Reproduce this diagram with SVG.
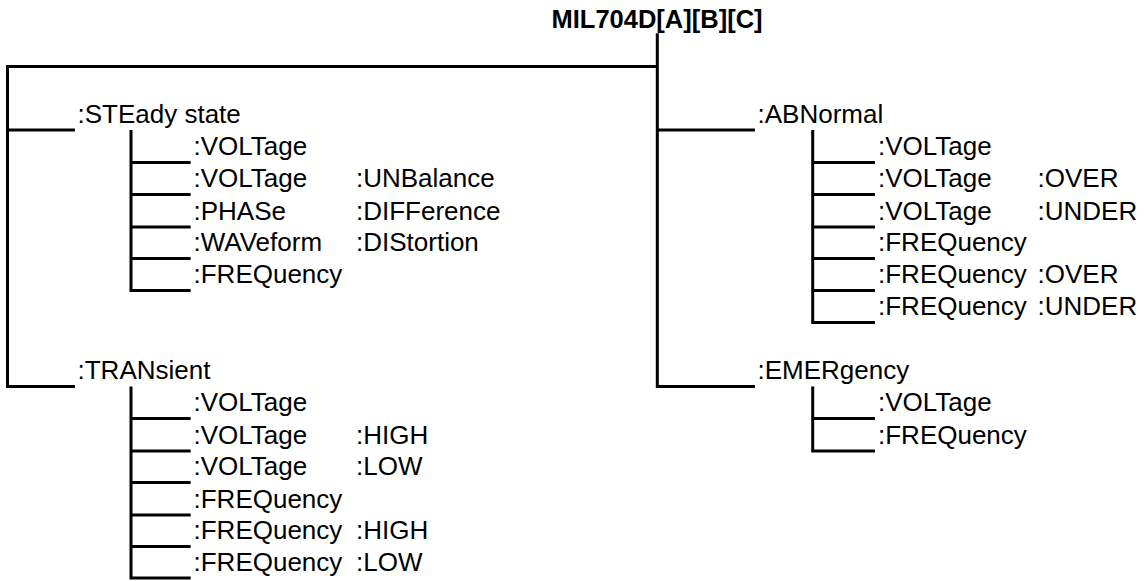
<svg xmlns="http://www.w3.org/2000/svg" width="1146" height="581" viewBox="0 0 1146 581">
<style>
.t{font-family:"Liberation Sans",Arial,Helvetica,sans-serif;font-size:26px;fill:#000}
.title{font-family:"Liberation Sans",Arial,Helvetica,sans-serif;font-size:25.5px;font-weight:bold;fill:#000}
.c{fill:none;stroke:#000;stroke-width:3;stroke-linejoin:miter;stroke-linecap:butt}
</style>
<rect width="1146" height="581" fill="#fff"/>
<g id="connectors" class="c">
<path d="M657.3 33.3 V386.5 H755"/>
<path d="M657.3 66.5 H7.5 V386.5 H75"/>
<path d="M7.5 130 H75"/>
<path d="M657.3 130 H755"/>
<path d="M131 130 V290.5 H190.7"/>
<path d="M131 162.5 H190.7 M131 194.5 H190.7 M131 227 H190.7 M131 258.5 H190.7"/>
<path d="M131 386.5 V578 H190.7"/>
<path d="M131 418.5 H190.7 M131 451 H190.7 M131 482.5 H190.7 M131 515 H190.7 M131 546.5 H190.7"/>
<path d="M812.7 130 V322.5 H875"/>
<path d="M812.7 162.5 H875 M812.7 194.5 H875 M812.7 227 H875 M812.7 258.5 H875 M812.7 290.5 H875"/>
<path d="M812.7 386.5 V451 H875"/>
<path d="M812.7 418.5 H875"/>
</g>
<g id="root"><text class="title" x="551.5" y="28">MIL704D[A][B][C]</text></g>
<g id="steady">
<text class="t" x="77.5" y="122.5">:STEady state</text>
<text class="t" x="193.5" y="155">:VOLTage</text>
<text class="t" x="193.5" y="187">:VOLTage</text><text class="t" x="356" y="187">:UNBalance</text>
<text class="t" x="193.5" y="219.5">:PHASe</text><text class="t" x="356" y="219.5">:DIFFerence</text>
<text class="t" x="193.5" y="251">:WAVeform</text><text class="t" x="356" y="251">:DIStortion</text>
<text class="t" x="193.5" y="283">:FREQuency</text>
</g>
<g id="transient">
<text class="t" x="77.5" y="379">:TRANsient</text>
<text class="t" x="193.5" y="411">:VOLTage</text>
<text class="t" x="193.5" y="443.5">:VOLTage</text><text class="t" x="356" y="443.5">:HIGH</text>
<text class="t" x="193.5" y="475">:VOLTage</text><text class="t" x="356" y="475">:LOW</text>
<text class="t" x="193.5" y="507.5">:FREQuency</text>
<text class="t" x="193.5" y="539">:FREQuency</text><text class="t" x="356" y="539">:HIGH</text>
<text class="t" x="193.5" y="570.5">:FREQuency</text><text class="t" x="356" y="570.5">:LOW</text>
</g>
<g id="abnormal">
<text class="t" x="757.5" y="122.5">:ABNormal</text>
<text class="t" x="878" y="155">:VOLTage</text>
<text class="t" x="878" y="187">:VOLTage</text><text class="t" x="1037.5" y="187">:OVER</text>
<text class="t" x="878" y="219.5">:VOLTage</text><text class="t" x="1037.5" y="219.5">:UNDER</text>
<text class="t" x="878" y="251">:FREQuency</text>
<text class="t" x="878" y="283">:FREQuency</text><text class="t" x="1037.5" y="283">:OVER</text>
<text class="t" x="878" y="315">:FREQuency</text><text class="t" x="1037.5" y="315">:UNDER</text>
</g>
<g id="emergency">
<text class="t" x="757.5" y="379">:EMERgency</text>
<text class="t" x="878" y="411">:VOLTage</text>
<text class="t" x="878" y="443.5">:FREQuency</text>
</g>
</svg>
